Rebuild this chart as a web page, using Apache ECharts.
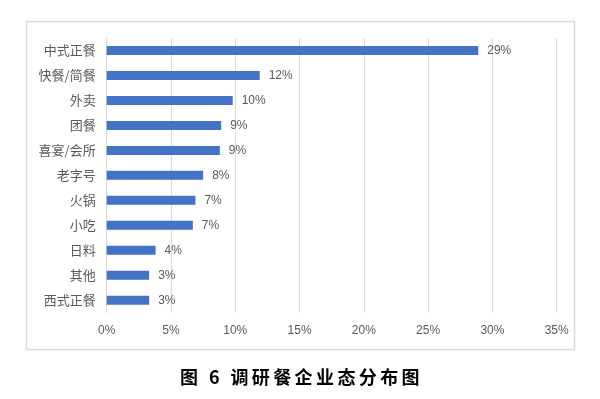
<!DOCTYPE html>
<html>
<head>
<meta charset="utf-8">
<script src="https://cdn.jsdelivr.net/npm/echarts@6/dist/echarts.min.js"></script>
<style>
  html, body { margin: 0; padding: 0; background: #fff; }
  #wrap { position: relative; width: 600px; height: 399px; }
  #barChart { width: 600px; height: 399px; }
  #caption {
    position: absolute; left: 0; top: 364px; width: 600px;
    text-align: center;
    font-family: "Noto Sans CJK SC", sans-serif;
    font-weight: bold; font-size: 18px; line-height: 24px;
    letter-spacing: 3.4px; color: #000;
    padding-left: 3px; box-sizing: border-box;
  }
</style>
</head>
<body>
<div id="wrap">
  <div id="barChart"></div>
  <div id="caption">图 6 调研餐企业态分布图</div>
</div>
<script>
// 业态分类（从上到下）
var categories = ['中式正餐', '快餐/简餐', '外卖', '团餐', '喜宴/会所', '老字号', '火锅', '小吃', '日料', '其他', '西式正餐'];
// 占比（%），按图中条长估读
var shares = [28.9, 11.9, 9.8, 8.9, 8.8, 7.5, 6.9, 6.7, 3.8, 3.3, 3.3];
// 横轴刻度
var xTicks = [0, 5, 10, 15, 20, 25, 30, 35];

var myChart = echarts.init(document.getElementById('barChart'));

var option = {
    backgroundColor: '#fff',
    graphic: [{
        // 外框
        type: 'rect',
        shape: { x: 26.5, y: 21.5, width: 548, height: 328 },
        style: { fill: 'none', stroke: '#d9d9d9', lineWidth: 1.5 },
        silent: true
    }],
    grid: {
        left: 106.7,
        right: 43.3,
        top: 38,
        bottom: 86.3
    },
    xAxis: {
        type: 'value',
        min: xTicks[0],
        max: xTicks[xTicks.length - 1],
        interval: 5,
        axisLine: { show: false },
        axisTick: { show: false },
        axisLabel: {
            margin: 12,
            color: '#595959',
            fontSize: 12,
            fontFamily: 'Liberation Sans, Arial, sans-serif',
            formatter: '{value}%'
        },
        splitLine: { lineStyle: { color: '#d9d9d9', width: 1 } }
    },
    yAxis: {
        type: 'category',
        inverse: true,
        data: categories,
        axisLine: { show: false },
        axisTick: { show: false },
        axisLabel: {
            margin: 11,
            color: '#595959',
            fontSize: 13,
            fontFamily: '"Noto Sans CJK SC", sans-serif'
        }
    },
    series: [{
        type: 'bar',
        data: shares,
        barWidth: 9,
        itemStyle: { color: '#4472c4' },
        label: {
            show: true,
            position: 'right',
            distance: 9,
            color: '#595959',
            fontSize: 12,
            fontFamily: 'Liberation Sans, Arial, sans-serif',
            formatter: function (p) { return Math.round(p.value) + '%'; }
        },
        animation: false
    }],
    animation: false
};

myChart.setOption(option);
</script>
</body>
</html>
